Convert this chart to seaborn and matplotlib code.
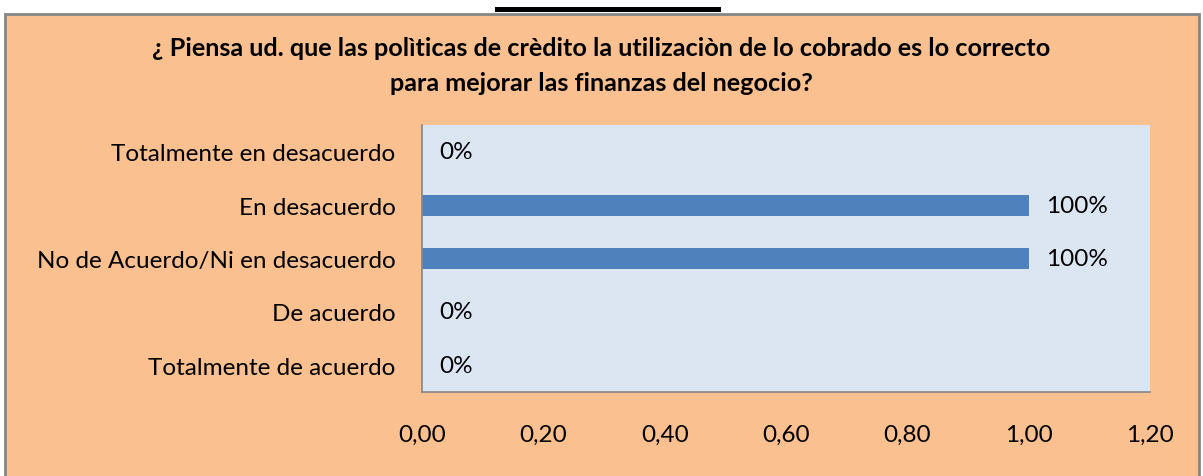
import matplotlib
matplotlib.use("Agg")
import matplotlib.pyplot as plt
import seaborn as sns
import pandas as pd
from matplotlib.patches import Rectangle

# --- DATA ---
categorias = [
    "Totalmente en desacuerdo",
    "En desacuerdo",
    "No de Acuerdo/Ni en desacuerdo",
    "De acuerdo",
    "Totalmente de acuerdo",
]
valores = [0, 1, 1, 0, 0]
etiquetas = ["0%", "100%", "100%", "0%", "0%"]
x_ticks = [0.0, 0.2, 0.4, 0.6, 0.8, 1.0, 1.2]
titulo = ("¿ Piensa ud. que las polìticas de crèdito la utilizaciòn de lo cobrado es lo correcto\n"
          "para mejorar las finanzas del negocio?")

ORANGE = "#FAC090"
PLOT_BG = "#DCE6F2"
BAR = "#4F81BD"
GRAY = "#868686"

df = pd.DataFrame({"cat": categorias, "val": valores})

sns.set_theme(style="white")
plt.rcParams["font.family"] = ["Lato", "DejaVu Sans"]

W, H = 1203, 477
fig = plt.figure(figsize=(W / 100, H / 100), dpi=100)
fig.patch.set_facecolor("white")

# orange chart area with gray border (behind the axes)
fig.patches.append(Rectangle((5 / W, -0.01), 1194 / W, 1.01 - 15 / H, transform=fig.transFigure,
                             facecolor=ORANGE, edgecolor=GRAY, linewidth=2, zorder=-2))
# black bar at the top
fig.patches.append(Rectangle((495 / W, 1 - 13 / H), 226 / W, 5 / H, transform=fig.transFigure,
                             facecolor="black", edgecolor="none", zorder=-1))

left, right, top, bottom = 422, 1150, 126, 393
ax = fig.add_axes([left / W, 1 - bottom / H, (right - left) / W, (bottom - top) / H])
ax.set_facecolor(PLOT_BG)

sns.barplot(data=df, x="val", y="cat", order=categorias, color=BAR, width=0.39,
            saturation=1, ax=ax, edgecolor="none")

FS = 17.5
ax.set_xlim(0, 1.2)
ax.set_ylim(len(categorias) - 0.5, -0.5)
ax.set_xticks(x_ticks)
ax.set_xticklabels([f"{t:.2f}".replace(".", ",") for t in x_ticks], fontsize=FS, color="black")
ax.set_yticks(range(len(categorias)))
ax.set_yticklabels(categorias, fontsize=FS, color="black")
ax.set_xlabel("")
ax.set_ylabel("")

# tick marks on category boundaries
ax.set_yticks([i - 0.5 for i in range(len(categorias) + 1)], minor=True)
ax.tick_params(axis="y", which="major", length=0, pad=19)
ax.tick_params(axis="y", which="minor", length=7, width=1.2, color=GRAY, direction="out")
ax.tick_params(axis="x", which="major", length=7, width=1.2, color=GRAY, direction="out", pad=16)

for s in ["top", "right"]:
    ax.spines[s].set_visible(False)
for s in ["left", "bottom"]:
    ax.spines[s].set_color(GRAY)
    ax.spines[s].set_linewidth(1.2)

for i, (v, lab) in enumerate(zip(valores, etiquetas)):
    ax.annotate(lab, (v, i), xytext=(12.5, 0), textcoords="offset points",
                va="center", ha="left", fontsize=FS, color="black")

fig.text(0.5, 1 - 66 / H, titulo, ha="center", va="center", fontsize=18.2,
         fontweight="bold", linespacing=1.6, color="black")

fig.savefig("out.png", dpi=100, facecolor=fig.get_facecolor())
